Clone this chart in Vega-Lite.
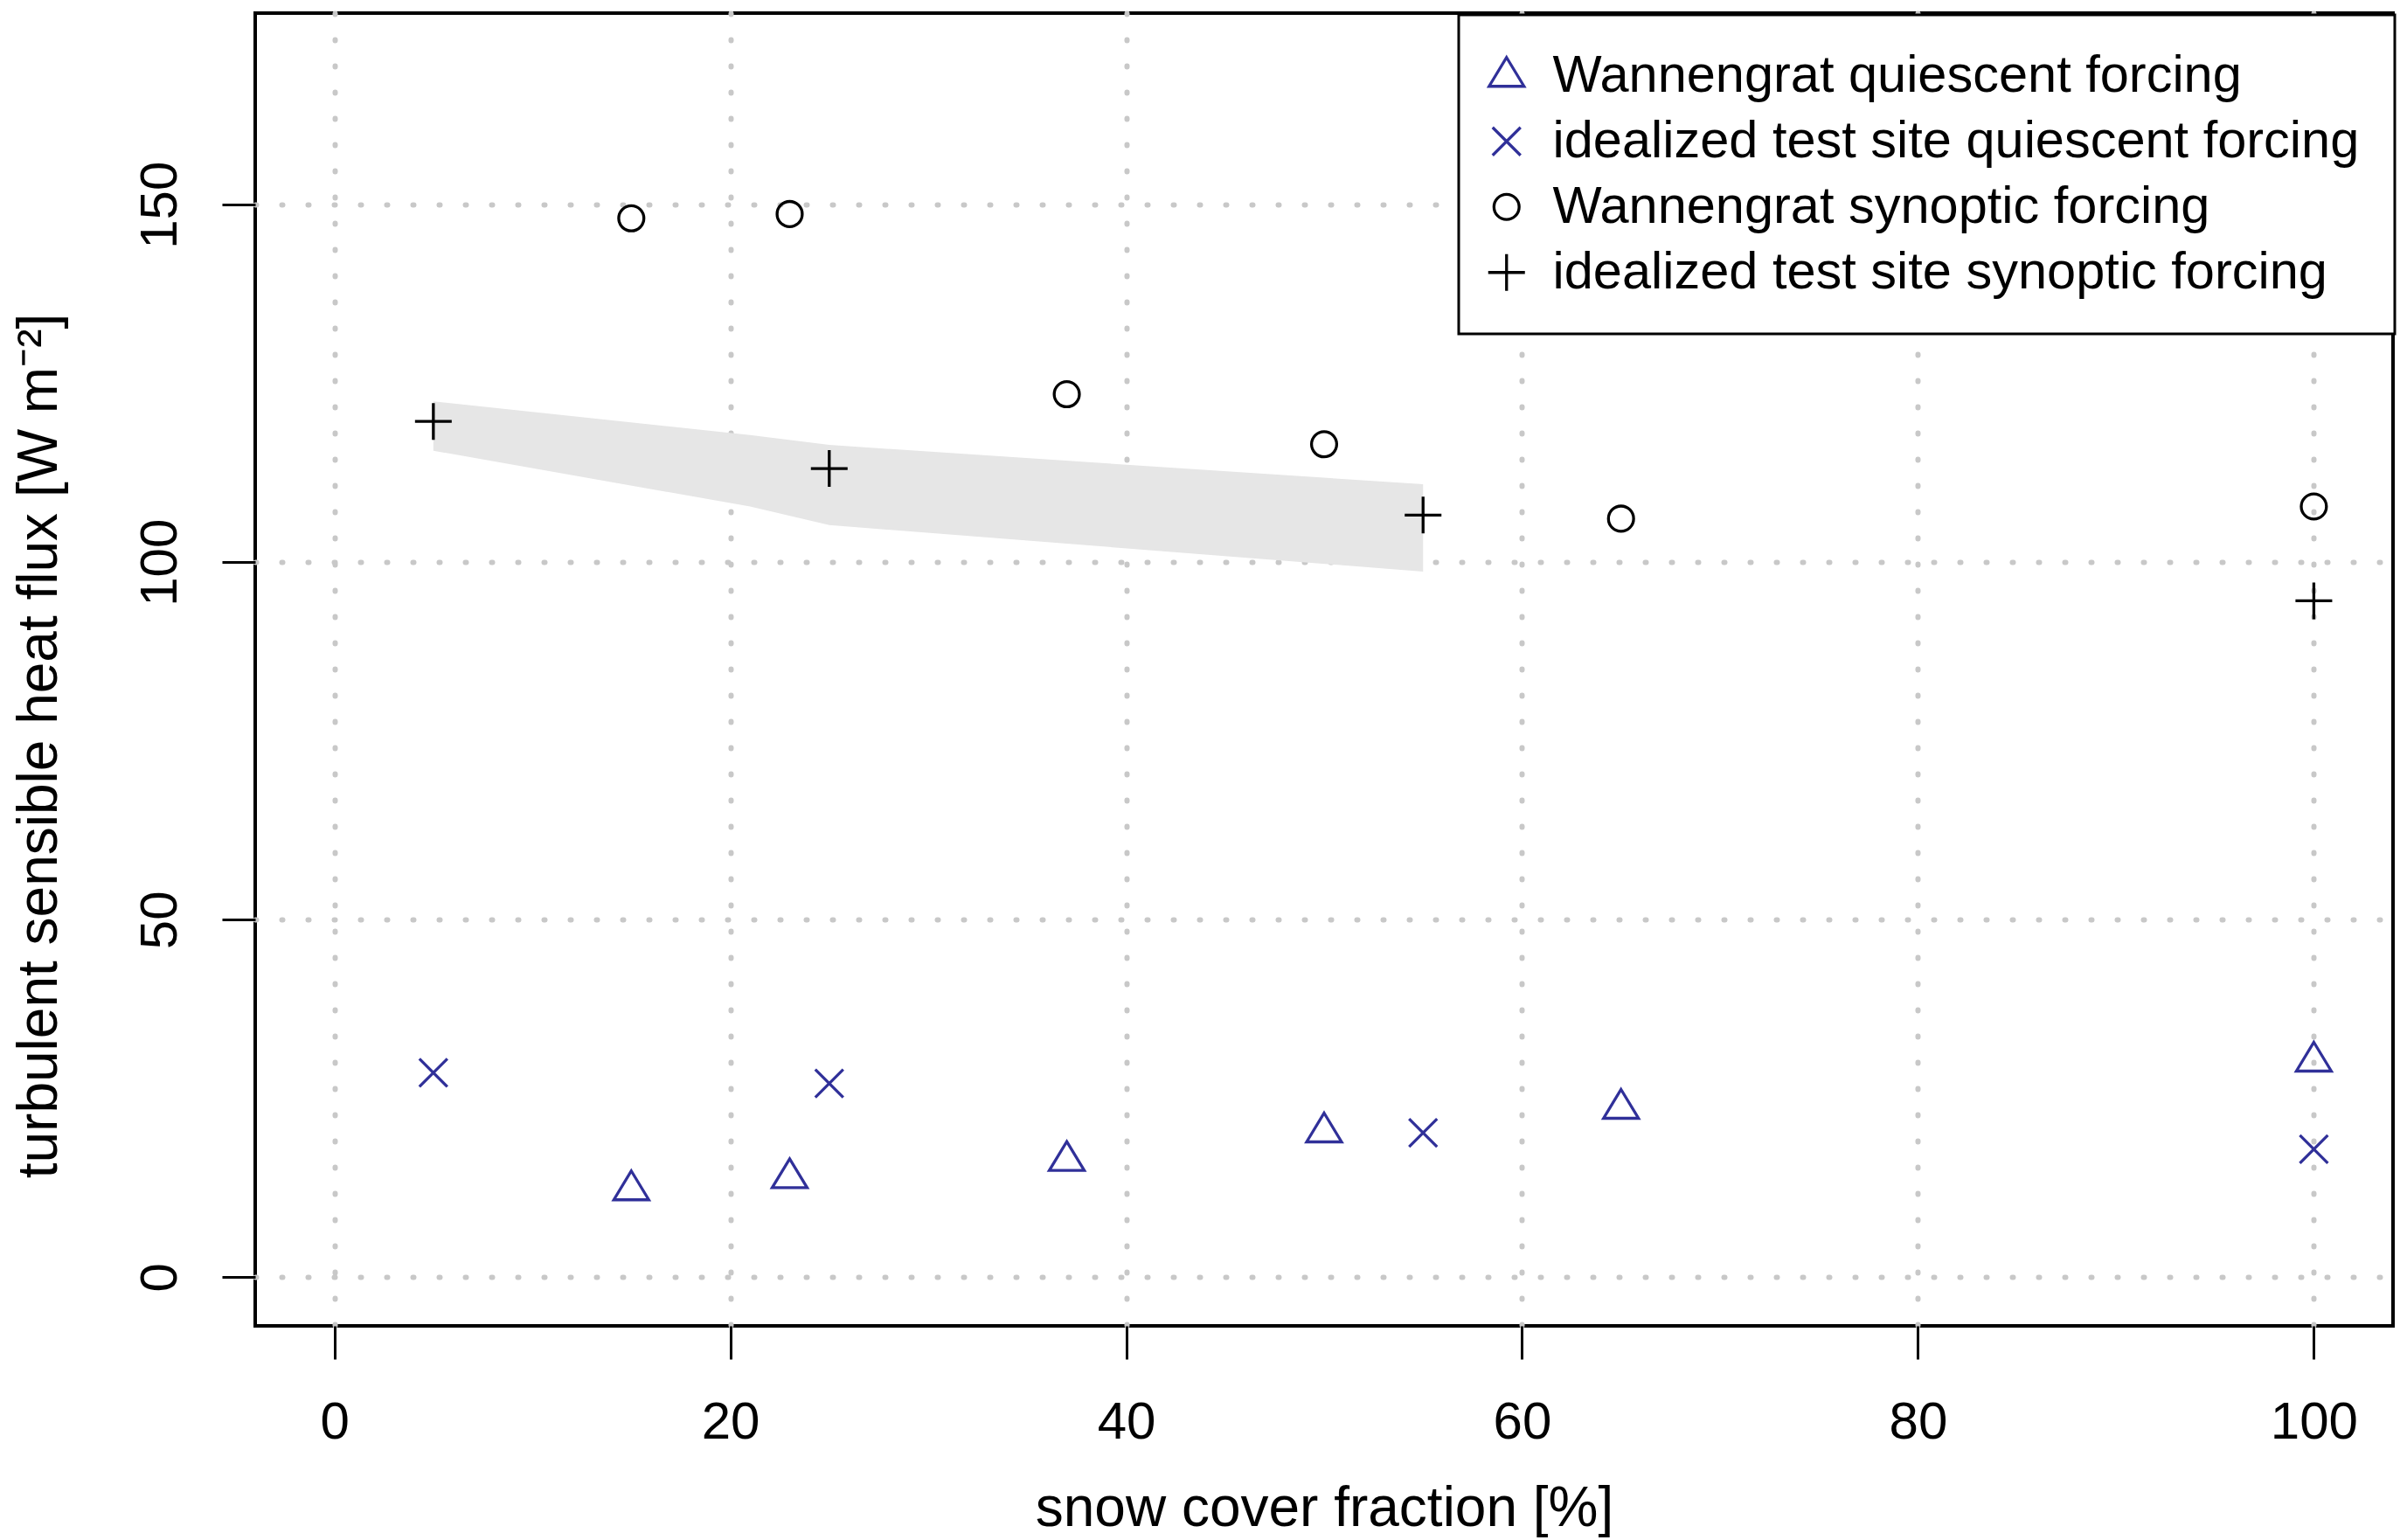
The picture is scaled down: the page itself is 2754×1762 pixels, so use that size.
{
  "$schema": "https://vega.github.io/schema/vega-lite/v6.json",
  "width": 2446,
  "height": 1502,
  "autosize": {"type": "none"},
  "padding": {"left": 292, "top": 15, "right": 16, "bottom": 245},
  "background": "white",
  "datasets": {
    "band": [
      {"fraction": 5, "lo": 115.6, "hi": 122.5},
      {"fraction": 21, "lo": 107.8, "hi": 117.8},
      {"fraction": 25, "lo": 105.2, "hi": 116.4},
      {"fraction": 55, "lo": 98.7, "hi": 110.9}
    ],
    "pts": [
      {"series": "Wannengrat quiescent forcing", "fraction": 15, "flux": 12.3},
      {"series": "Wannengrat quiescent forcing", "fraction": 23, "flux": 14.0},
      {"series": "Wannengrat quiescent forcing", "fraction": 37, "flux": 16.4},
      {"series": "Wannengrat quiescent forcing", "fraction": 50, "flux": 20.4},
      {"series": "Wannengrat quiescent forcing", "fraction": 65, "flux": 23.7},
      {"series": "Wannengrat quiescent forcing", "fraction": 100, "flux": 30.3},
      {"series": "idealized test site quiescent forcing", "fraction": 5, "flux": 28.6},
      {"series": "idealized test site quiescent forcing", "fraction": 25, "flux": 27.1},
      {"series": "idealized test site quiescent forcing", "fraction": 55, "flux": 20.2},
      {"series": "idealized test site quiescent forcing", "fraction": 100, "flux": 17.9},
      {"series": "Wannengrat synoptic forcing", "fraction": 15, "flux": 148.1},
      {"series": "Wannengrat synoptic forcing", "fraction": 23, "flux": 148.7},
      {"series": "Wannengrat synoptic forcing", "fraction": 37, "flux": 123.5},
      {"series": "Wannengrat synoptic forcing", "fraction": 50, "flux": 116.5},
      {"series": "Wannengrat synoptic forcing", "fraction": 65, "flux": 106.1},
      {"series": "Wannengrat synoptic forcing", "fraction": 100, "flux": 107.8},
      {"series": "idealized test site synoptic forcing", "fraction": 5, "flux": 119.7},
      {"series": "idealized test site synoptic forcing", "fraction": 25, "flux": 113.1},
      {"series": "idealized test site synoptic forcing", "fraction": 55, "flux": 106.6},
      {"series": "idealized test site synoptic forcing", "fraction": 100, "flux": 94.6}
    ]
  },
  "layer": [
    {
      "data": {"name": "band"},
      "mark": {"type": "area", "color": "#e6e6e6", "opacity": 1},
      "encoding": {
        "x": {"field": "fraction", "type": "quantitative"},
        "y": {"field": "hi", "type": "quantitative"},
        "y2": {"field": "lo"}
      }
    },
    {
      "data": {"name": "pts"},
      "mark": {"type": "point", "filled": false, "size": 1600, "strokeWidth": 3.3, "opacity": 1},
      "encoding": {
        "x": {"field": "fraction", "type": "quantitative"},
        "y": {"field": "flux", "type": "quantitative"},
        "shape": {
          "field": "series", "type": "nominal",
          "scale": {
            "domain": ["Wannengrat quiescent forcing", "idealized test site quiescent forcing", "Wannengrat synoptic forcing", "idealized test site synoptic forcing"],
            "range": [
              "M0,-1.05L1,0.6L-1,0.6Z",
              "M-0.8,-0.8L0.8,0.8M-0.8,0.8L0.8,-0.8",
              "M0.72,0A0.72,0.72 0 1,1 -0.72,0A0.72,0.72 0 1,1 0.72,0Z",
              "M-1.05,0L1.05,0M0,-1.05L0,1.05"
            ]
          },
          "legend": {"title": null}
        },
        "color": {
          "field": "series", "type": "nominal",
          "scale": {
            "domain": ["Wannengrat quiescent forcing", "idealized test site quiescent forcing", "Wannengrat synoptic forcing", "idealized test site synoptic forcing"],
            "range": ["#303099", "#303099", "#000000", "#000000"]
          },
          "legend": {"title": null}
        }
      }
    }
  ],
  "encoding": {
    "x": {
      "field": "fraction", "type": "quantitative",
      "title": "snow cover fraction [%]",
      "scale": {"domain": [-4, 104], "nice": false, "zero": false},
      "axis": {"values": [0, 20, 40, 60, 80, 100], "labelBaseline": "alphabetic", "labelPadding": 90, "titleY": 228, "titleBaseline": "alphabetic"}
    },
    "y": {
      "field": "flux", "type": "quantitative",
      "title": "turbulent sensible heat flux [W m⁻²]",
      "scale": {"domain": [-6.8, 176.8], "nice": false, "zero": false},
      "axis": {"values": [0, 50, 100, 150], "labelAngle": -90, "labelAlign": "center", "labelBaseline": "alphabetic", "labelPadding": 53, "titleX": -228, "titleY": 838, "titleAngle": -90, "titleAlign": "center", "titleBaseline": "alphabetic"}
    }
  },
  "config": {
    "font": "Liberation Sans",
    "view": {"stroke": "black", "strokeWidth": 4},
    "axis": {
      "domain": false,
      "grid": true,
      "gridColor": "#c8c8c8",
      "gridDash": [1, 29],
      "gridCap": "round",
      "gridWidth": 6,
      "ticks": true,
      "tickColor": "black",
      "tickWidth": 3,
      "tickSize": 38,
      "labelFont": "Liberation Sans",
      "labelFontSize": 60,
      "labelColor": "black",
      "titleFont": "Liberation Sans",
      "titleFontSize": 64,
      "titleFontWeight": "normal",
      "titleColor": "black",
      "labelOverlap": false,
      "labelFlush": false
    },
    "legend": {
      "orient": "none",
      "legendX": 1377,
      "legendY": 2,
      "padding": 40,
      "rowPadding": 14,
      "symbolOffset": -15,
      "labelFont": "Liberation Sans",
      "labelFontSize": 59.5,
      "labelColor": "black",
      "labelLimit": 3000,
      "labelOffset": 23,
      "symbolSize": 1600,
      "symbolStrokeWidth": 3.3,
      "strokeColor": "black",
      "strokeWidth": 3,
      "fillColor": "white"
    }
  }
}
